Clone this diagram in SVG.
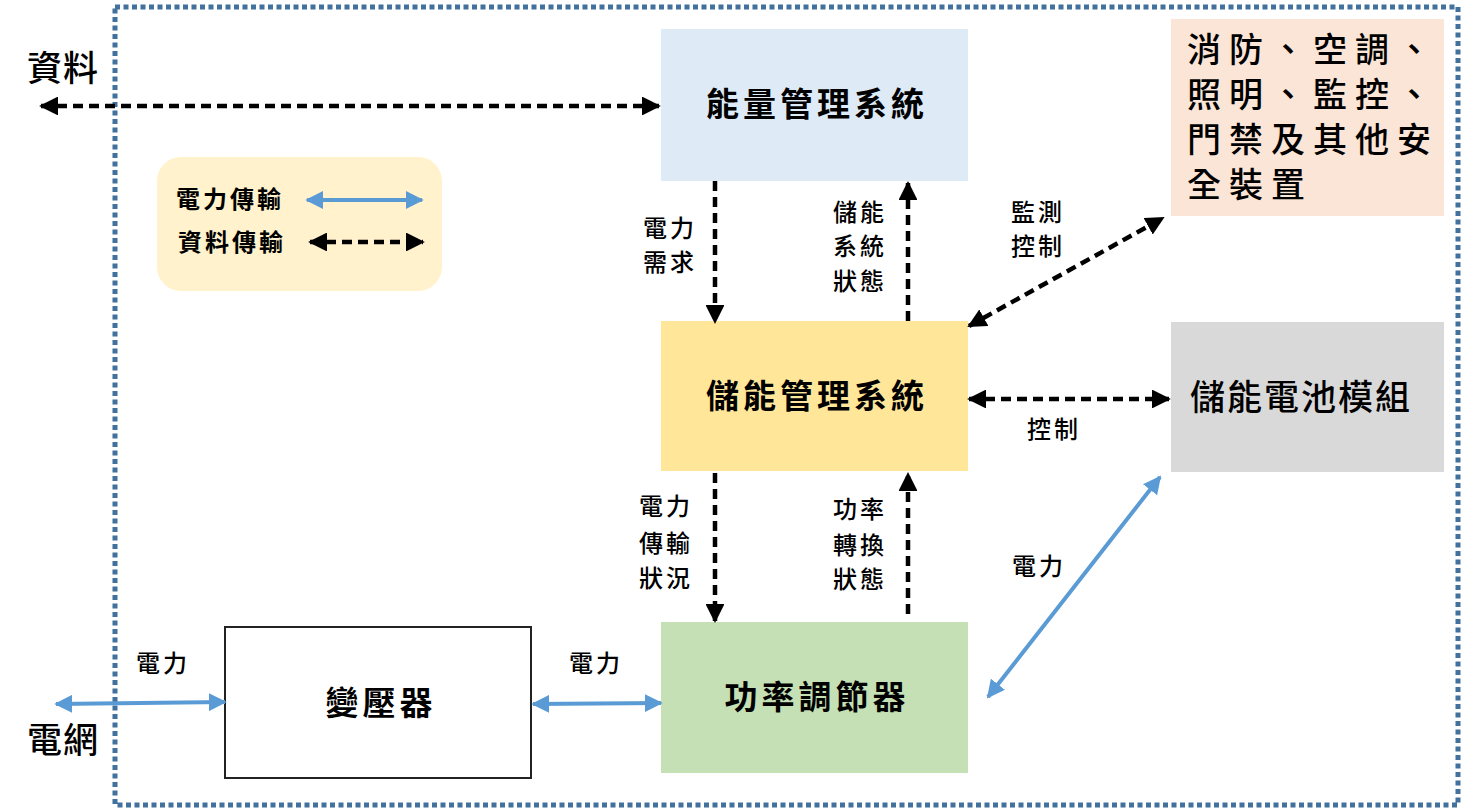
<svg xmlns="http://www.w3.org/2000/svg" width="1465" height="810" viewBox="0 0 1465 810">
<style>
text{font-family:"Liberation Sans","Noto Sans CJK TC",sans-serif;fill:#000;}
.big{font-size:35px;font-weight:500;text-anchor:middle;dominant-baseline:central;}
.title{font-size:33px;font-weight:bold;letter-spacing:4px;text-anchor:middle;dominant-baseline:central;}
.lab{font-size:24px;font-weight:500;letter-spacing:3px;text-anchor:middle;dominant-baseline:central;}
.leg{font-size:24px;font-weight:bold;letter-spacing:3px;text-anchor:middle;dominant-baseline:central;}
.safe{font-size:34px;font-weight:500;letter-spacing:8px;}
.data{stroke:#000;stroke-width:4.5;stroke-dasharray:10 6;fill:none;}
.pow{stroke:#5B9BD5;stroke-width:4;fill:none;}
</style>
<defs>
<marker id="ak" viewBox="0 0 10 10" refX="9" refY="5" markerWidth="4.2" markerHeight="4.2" orient="auto-start-reverse" markerUnits="strokeWidth"><path d="M0,0L10,5L0,10z" fill="#000"/></marker>
<marker id="ab" viewBox="0 0 10 10" refX="9" refY="5" markerWidth="4.5" markerHeight="4.5" orient="auto-start-reverse" markerUnits="strokeWidth"><path d="M0,0L10,5L0,10z" fill="#5B9BD5"/></marker>
</defs>
<rect x="0" y="0" width="1465" height="810" fill="#fff"/>
<rect id="border" x="115" y="7" width="1343" height="798" fill="none" stroke="#41719C" stroke-width="5" stroke-dasharray="5 3.5"/>
<g id="legend">
<rect x="157" y="157" width="285" height="134" rx="24" fill="#FFF2CC"/>
<text class="leg" x="230" y="199">電力傳輸</text>
<text class="leg" x="232" y="242">資料傳輸</text>
</g>
<g id="n-ems"><rect x="661" y="29" width="307" height="152" fill="#DEEBF7"/><text class="title" x="817" y="104">能量管理系統</text></g>
<g id="n-bms"><rect x="661" y="321" width="307" height="150" fill="#FFE699"/><text class="title" x="817" y="396">儲能管理系統</text></g>
<g id="n-pcs"><rect x="661" y="622" width="307" height="151" fill="#C5E0B4"/><text class="title" x="817" y="697">功率調節器</text></g>
<g id="n-tr"><rect x="225" y="627" width="306" height="151" fill="#fff" stroke="#222" stroke-width="2"/><text class="title" x="381" y="703">變壓器</text></g>
<g id="n-safe"><rect x="1171" y="19" width="273" height="197" fill="#FBE5D6"/>
<text class="safe" x="1187" y="62">消防、空調、</text>
<text class="safe" x="1187" y="107">照明、監控、</text>
<text class="safe" x="1187" y="152">門禁及其他安</text>
<text class="safe" x="1187" y="197">全裝置</text>
</g>
<g id="n-bat"><rect x="1171" y="322" width="273" height="150" fill="#D9D9D9"/><text class="big" x="1301" y="397" letter-spacing="2">儲能電池模組</text></g>
<g id="ext"><text class="big" x="63" y="68" font-size="36" letter-spacing="1">資料</text><text class="big" x="63" y="740" font-size="36" letter-spacing="1">電網</text></g>
<g id="connectors">
<line class="data" x1="310" y1="242" x2="423" y2="242" marker-start="url(#ak)" marker-end="url(#ak)"/>
<line class="pow" x1="307" y1="200" x2="422" y2="200" marker-start="url(#ab)" marker-end="url(#ab)"/>
<line class="data" x1="41" y1="106" x2="659" y2="106" marker-start="url(#ak)" marker-end="url(#ak)"/>
<line class="data" x1="715" y1="181" x2="715" y2="322" marker-end="url(#ak)"/>
<line class="data" x1="908" y1="321" x2="908" y2="183" marker-end="url(#ak)"/>
<line class="data" x1="969" y1="326" x2="1163" y2="218" marker-start="url(#ak)" marker-end="url(#ak)"/>
<line class="data" x1="969" y1="399" x2="1169" y2="399" marker-start="url(#ak)" marker-end="url(#ak)"/>
<line class="data" x1="715" y1="473" x2="715" y2="621" marker-end="url(#ak)"/>
<line class="data" x1="908" y1="614" x2="908" y2="474" marker-end="url(#ak)"/>
<line class="pow" x1="988" y1="697" x2="1160" y2="477" marker-start="url(#ab)" marker-end="url(#ab)"/>
<line class="pow" x1="533" y1="704" x2="661" y2="703" marker-start="url(#ab)" marker-end="url(#ab)"/>
<line class="pow" x1="56" y1="704" x2="225" y2="702" marker-start="url(#ab)" marker-end="url(#ab)"/>
</g>
<g id="labels">
<text class="lab" x="670" y="228">電力</text><text class="lab" x="670" y="262">需求</text>
<text class="lab" x="860" y="212">儲能</text><text class="lab" x="860" y="246">系統</text><text class="lab" x="860" y="281">狀態</text>
<text class="lab" x="1038" y="212">監測</text><text class="lab" x="1038" y="246">控制</text>
<text class="lab" x="1054" y="429">控制</text>
<text class="lab" x="666" y="506">電力</text><text class="lab" x="666" y="543">傳輸</text><text class="lab" x="666" y="578">狀況</text>
<text class="lab" x="860" y="509">功率</text><text class="lab" x="860" y="545">轉換</text><text class="lab" x="860" y="579">狀態</text>
<text class="lab" x="1039" y="566">電力</text>
<text class="lab" x="163" y="663">電力</text>
<text class="lab" x="596" y="663">電力</text>
</g>
</svg>
